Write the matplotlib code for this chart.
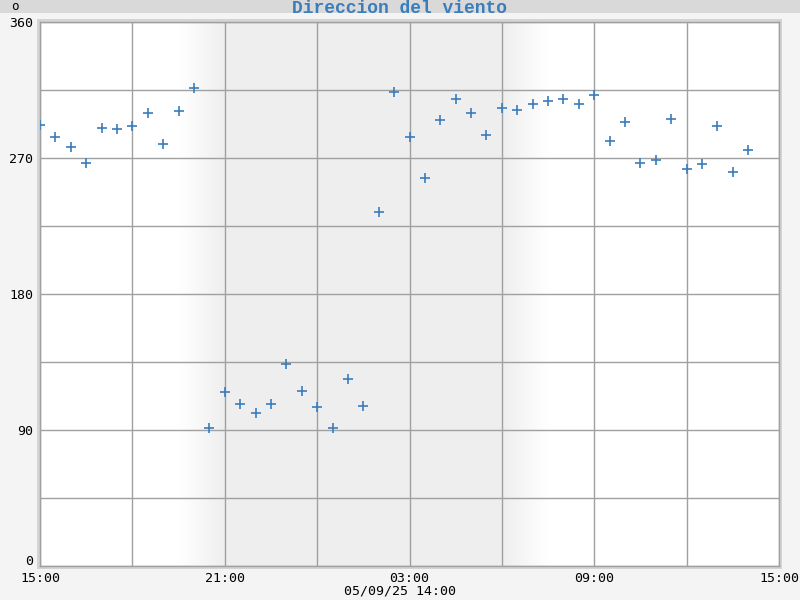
import numpy as np
import pandas as pd
import matplotlib
matplotlib.use('Agg')
import matplotlib.pyplot as plt
import matplotlib.dates as mdates
import matplotlib.transforms as mtransforms
from matplotlib.patches import Rectangle
from matplotlib.ticker import MultipleLocator

# wind direction (degrees), one reading every 30 min from 04/09/25 15:00
start = '2025-09-04 15:00'
end = '2025-09-05 15:00'
direction = [292, 284, 277, 267, 290, 289, 291, 300, 279, 301, 316,
             91, 115, 107, 101, 107, 134, 116, 105, 91, 124, 106,
             234, 314, 284, 257, 295, 309, 300, 285, 303, 302, 306,
             308, 309, 306, 312, 281, 294, 267, 269, 296, 263, 266,
             291, 261, 275]
times = pd.date_range(start, periods=len(direction), freq='30min')

# night shading: fade in, full, fade out
night_fade_in = '2025-09-04 19:30'
night_start = '2025-09-04 21:00'
night_end = '2025-09-05 06:00'
night_fade_out = '2025-09-05 07:30'

y_ticks = [0, 90, 180, 270, 360]
blue = '#3a7dbd'
grid_col = '#a0a0a0'

fig = plt.figure(figsize=(8, 6), dpi=100, facecolor='#f4f4f4')

# header bar
fig.add_artist(Rectangle((0, 1 - 13 / 600), 1, 13 / 600, transform=fig.transFigure,
                         facecolor='#d9d9d9', edgecolor='none', zorder=0))
# light frame round the plot
fig.add_artist(Rectangle((37 / 800, 31 / 600), 745 / 800, 550 / 600, transform=fig.transFigure,
                         facecolor='#d4d4d4', edgecolor='none', zorder=0))

ax = fig.add_axes([40 / 800, 34 / 600, 739 / 800, 544 / 600])
ax.set_facecolor('white')

# night background as a horizontal gradient
x0 = mdates.date2num(pd.Timestamp(night_fade_in))
x1 = mdates.date2num(pd.Timestamp(night_start))
x2 = mdates.date2num(pd.Timestamp(night_end))
x3 = mdates.date2num(pd.Timestamp(night_fade_out))
xs = np.linspace(x0, x3, 600)
alpha = np.interp(xs, [x0, x1, x2, x3], [0, 1, 1, 0])
img = np.zeros((1, len(xs), 4))
img[..., :3] = 0.937
img[..., 3] = alpha
ax.imshow(img, extent=[x0, x3, 0, 360], aspect='auto', zorder=0, interpolation='bilinear')

ax.plot(times, direction, linestyle='none', marker='+', color=blue,
        markersize=7, markeredgewidth=1.2, zorder=3)

ax.set_xlim(pd.Timestamp(start), pd.Timestamp(end))
ax.set_ylim(0, 360)

ax.xaxis.set_major_locator(mdates.HourLocator(byhour=[3, 9, 15, 21]))
ax.xaxis.set_minor_locator(mdates.HourLocator(byhour=[0, 6, 12, 18]))
ax.xaxis.set_major_formatter(mdates.DateFormatter('%H:%M'))
ax.set_yticks(y_ticks)
ax.yaxis.set_minor_locator(MultipleLocator(45))

ax.grid(True, which='both', color=grid_col, linewidth=1)
ax.set_axisbelow(True)
ax.tick_params(which='both', length=0)
ax.tick_params(axis='x', pad=4)
ax.tick_params(axis='y', pad=5)
for lab in ax.get_xticklabels() + ax.get_yticklabels():
    lab.set_fontfamily('DejaVu Sans Mono')
    lab.set_fontsize(9.5)
    lab.set_color('black')

# the "0" label sits a little above the bottom edge
zero_lab = ax.get_yticklabels()[0]
zero_lab.set_transform(zero_lab.get_transform() +
                       mtransforms.ScaledTranslation(0, 4 / 72, fig.dpi_scale_trans))

for s in ax.spines.values():
    s.set_color(grid_col)
    s.set_linewidth(1)

fig.text(0.5, 1 - 8.5 / 600, 'Direccion del viento', ha='center', va='center',
         family='Liberation Mono', fontweight='bold', fontsize=13, color=blue)
fig.text(15 / 800, 1 - 6 / 600, 'o', ha='center', va='center',
         family='DejaVu Sans Mono', fontsize=9, color='black')
fig.text(0.5, 1 - 591 / 600, '05/09/25 14:00', ha='center', va='center',
         family='DejaVu Sans Mono', fontsize=9.5, color='black')

fig.savefig('out.png', dpi=100, facecolor=fig.get_facecolor())
